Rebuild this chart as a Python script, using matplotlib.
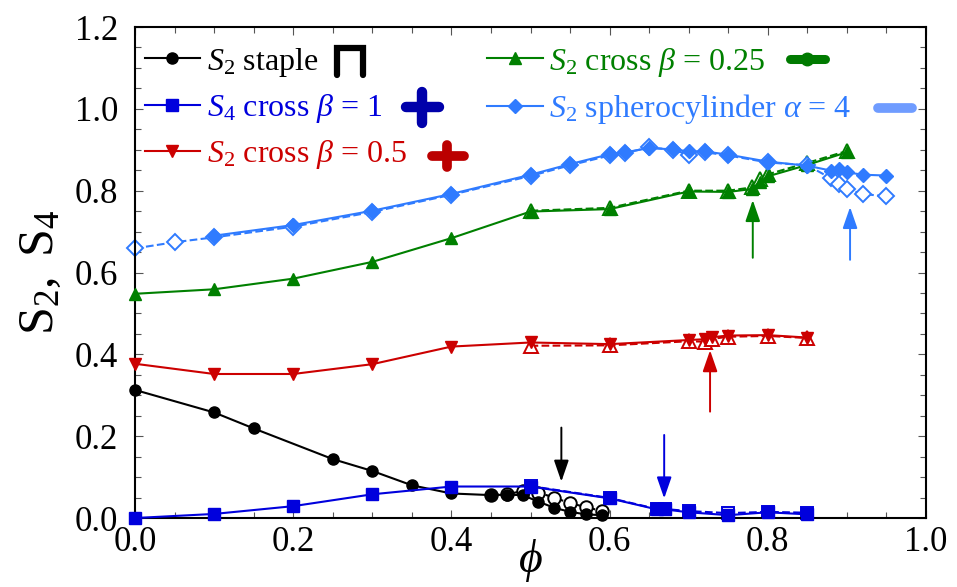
import matplotlib
matplotlib.use("Agg")
import matplotlib.pyplot as plt
import numpy as np

plt.rcParams['font.family'] = ['Liberation Serif', 'DejaVu Serif']
plt.rcParams['mathtext.fontset'] = 'custom'
plt.rcParams['mathtext.rm'] = 'Liberation Serif'
plt.rcParams['mathtext.it'] = 'Liberation Serif:italic'
plt.rcParams['mathtext.bf'] = 'Liberation Serif:bold'

# staple, S2 (filled = solid, open = dashed)
phi_staple = [0.0, 0.10, 0.15, 0.25, 0.30, 0.35, 0.40, 0.45, 0.47, 0.49, 0.51, 0.53, 0.55, 0.57, 0.59]
s2_staple = [0.313, 0.258, 0.219, 0.144, 0.115, 0.080, 0.060, 0.056, 0.057, 0.056, 0.040, 0.025, 0.015, 0.009, 0.007]
phi_staple_b = [0.45, 0.47, 0.49, 0.51, 0.53, 0.55, 0.57, 0.59]
s2_staple_b = [0.057, 0.058, 0.066, 0.062, 0.050, 0.036, 0.027, 0.017]

# cross beta=1, S4
phi_c1 = [0.0, 0.1, 0.2, 0.3, 0.4, 0.5, 0.6, 0.66, 0.67, 0.7, 0.75, 0.8, 0.85]
s4_c1 = [0.0, 0.010, 0.029, 0.058, 0.077, 0.077, 0.048, 0.021, 0.021, 0.014, 0.007, 0.014, 0.009]
phi_c1_b = [0.5, 0.6, 0.66, 0.67, 0.7, 0.75, 0.8, 0.85]
s4_c1_b = [0.078, 0.049, 0.022, 0.022, 0.017, 0.012, 0.015, 0.013]

# cross beta=0.5, S2
phi_c05 = [0.0, 0.1, 0.2, 0.3, 0.4, 0.5, 0.6, 0.7, 0.72, 0.73, 0.75, 0.8, 0.85]
s2_c05 = [0.377, 0.352, 0.352, 0.376, 0.419, 0.429, 0.425, 0.435, 0.437, 0.442, 0.446, 0.447, 0.441]
phi_c05_b = [0.5, 0.6, 0.7, 0.72, 0.73, 0.75, 0.8, 0.85]
s2_c05_b = [0.421, 0.422, 0.432, 0.431, 0.438, 0.443, 0.445, 0.440]

# cross beta=0.25, S2
phi_c025 = [0.0, 0.1, 0.2, 0.3, 0.4, 0.5, 0.6, 0.7, 0.75, 0.78, 0.79, 0.8, 0.85, 0.9]
s2_c025 = [0.548, 0.559, 0.585, 0.626, 0.684, 0.749, 0.755, 0.798, 0.797, 0.804, 0.822, 0.835, 0.863, 0.894]
phi_c025_b = [0.5, 0.6, 0.7, 0.75, 0.78, 0.79, 0.8, 0.85, 0.9]
s2_c025_b = [0.751, 0.758, 0.800, 0.800, 0.808, 0.828, 0.840, 0.868, 0.897]

# spherocylinder alpha=4, S2
phi_sc = [0.1, 0.2, 0.3, 0.4, 0.5, 0.55, 0.6, 0.62, 0.65, 0.68, 0.7, 0.72, 0.75, 0.8, 0.85, 0.88, 0.89, 0.9, 0.92, 0.95]
s2_sc = [0.690, 0.716, 0.751, 0.792, 0.839, 0.865, 0.889, 0.894, 0.904, 0.901, 0.896, 0.896, 0.888, 0.871, 0.861, 0.849, 0.853, 0.845, 0.839, 0.837]
phi_sc_b = [0.0, 0.05, 0.1, 0.2, 0.3, 0.4, 0.5, 0.55, 0.6, 0.62, 0.65, 0.68, 0.7, 0.72, 0.75, 0.8, 0.85, 0.88, 0.89, 0.9, 0.92, 0.95]
s2_sc_b = [0.659, 0.674, 0.686, 0.712, 0.748, 0.790, 0.836, 0.862, 0.886, 0.892, 0.906, 0.900, 0.888, 0.894, 0.886, 0.869, 0.862, 0.830, 0.817, 0.804, 0.792, 0.786]

# arrows: phi, tail, head
arrow_phi = [0.539, 0.669, 0.727, 0.781, 0.904]
arrow_tail = [0.221, 0.203, 0.26, 0.636, 0.631]
arrow_head = [0.089, 0.048, 0.41, 0.777, 0.760]
arrow_col = ['black', '#0000dd', '#cc0000', '#008000', '#2f7bff']

c_black, c_blue, c_red, c_green, c_lblue = 'black', '#0000dd', '#cc0000', '#008000', '#2f7bff'

fig = plt.figure(figsize=(9.57, 5.87), dpi=100)
ax = fig.add_axes([0.1411, 0.1175, 0.8265, 0.8365])

lw = 1.5
series = [
    (phi_staple, s2_staple, phi_staple_b, s2_staple_b, c_black, 'o', 'o', 8, r'$S_2$ staple'),
    (phi_c1, s4_c1, phi_c1_b, s4_c1_b, c_blue, 's', 's', 8, r'$S_4$ cross $\beta$ = 1'),
    (phi_c05, s2_c05, phi_c05_b, s2_c05_b, c_red, 'v', '^', 8.5, r'$S_2$ cross $\beta$ = 0.5'),
    (phi_c025, s2_c025, phi_c025_b, s2_c025_b, c_green, '^', '^', 8.5, r'$S_2$ cross $\beta$ = 0.25'),
    (phi_sc, s2_sc, phi_sc_b, s2_sc_b, c_lblue, 'D', 'D', 7.5, r'$S_2$ spherocylinder $\alpha$ = 4'),
]
handles = []
for x, y, xb, yb, col, m, mb, ms, lab in series:
    ax.plot(xb, yb, ls='--', color=col, lw=lw, marker=mb, ms=ms + 1,
            mfc='white', mec=col, mew=1.4, zorder=2, clip_on=False)
    h, = ax.plot(x, y, ls='-', color=col, lw=lw, marker=m, ms=ms,
                 mfc=col, mec=col, zorder=3, label=lab, clip_on=False)
    handles.append(h)

for px, t, hd, col in zip(arrow_phi, arrow_tail, arrow_head, arrow_col):
    ax.annotate('', xy=(px, hd), xytext=(px, t),
                arrowprops=dict(arrowstyle='-|>,head_length=1.3,head_width=0.45',
                                color=col, lw=1.4, shrinkA=0, shrinkB=0))

ax.set_xlim(0, 1.0)
ax.set_ylim(0, 1.2)
ax.set_xticks(np.arange(0, 1.01, 0.2))
ax.set_yticks(np.arange(0, 1.21, 0.2))
ax.set_xticks(np.arange(0, 1.01, 0.05), minor=True)
ax.set_yticks(np.arange(0, 1.21, 0.05), minor=True)
ax.set_xticklabels(['%.1f' % v for v in np.arange(0, 1.01, 0.2)])
ax.set_yticklabels(['%.1f' % v for v in np.arange(0, 1.21, 0.2)])
ax.tick_params(which='both', direction='in', top=True, right=True, color='#555555', width=0.8)
ax.tick_params(which='major', length=6, labelsize=25)
ax.tick_params(which='minor', length=4)
ax.tick_params(axis='y', pad=12)
ax.tick_params(axis='x', pad=6)
for s in ax.spines.values():
    s.set_linewidth(1.5)

ax.set_ylabel(r'$\mathrm{S}_2,\ \mathrm{S}_4$', fontsize=36, labelpad=8)
ax.set_xlabel(r'$\phi$', fontsize=33, labelpad=-16)

leg = ax.legend(handles=handles, ncol=2, loc='upper left', bbox_to_anchor=(0.012, 0.962),
                frameon=False, fontsize=23, handlelength=1.75, handletextpad=0.2,
                labelspacing=0.42, columnspacing=2.5, borderpad=0, borderaxespad=0,
                labelcolor='linecolor')

# shape icons next to the legend labels (axes fraction)
def fx(px):
    return (px - 135) / 791.0

def fy(py):
    return (518 - py) / 491.0

T = ax.transAxes
ax.plot([fx(337), fx(337), fx(363), fx(363)], [fy(75), fy(48), fy(48), fy(75)],
        color='black', lw=4.5, solid_capstyle='round', solid_joinstyle='miter', transform=T, clip_on=False)
ax.plot([fx(406), fx(439)], [fy(107), fy(107)], color='#0000aa', lw=7.5, solid_capstyle='round', transform=T)
ax.plot([fx(422), fx(422)], [fy(92), fy(123)], color='#0000aa', lw=7.5, solid_capstyle='round', transform=T)
ax.plot([fx(432), fx(464)], [fy(156), fy(156)], color='#bb0000', lw=7, solid_capstyle='round', transform=T)
ax.plot([fx(447), fx(447)], [fy(145), fy(167)], color='#bb0000', lw=7, solid_capstyle='round', transform=T)
ax.plot([fx(790), fx(825)], [fy(59), fy(59)], color='#007a00', lw=6.5, solid_capstyle='round', transform=T)
ax.plot([fx(807)], [fy(59)], marker='o', ms=9, color='#007a00', transform=T)
ax.plot([fx(878), fx(912)], [fy(108), fy(108)], color='#6f9cff', lw=7, solid_capstyle='round', transform=T)

fig.savefig('out.png', dpi=100)
